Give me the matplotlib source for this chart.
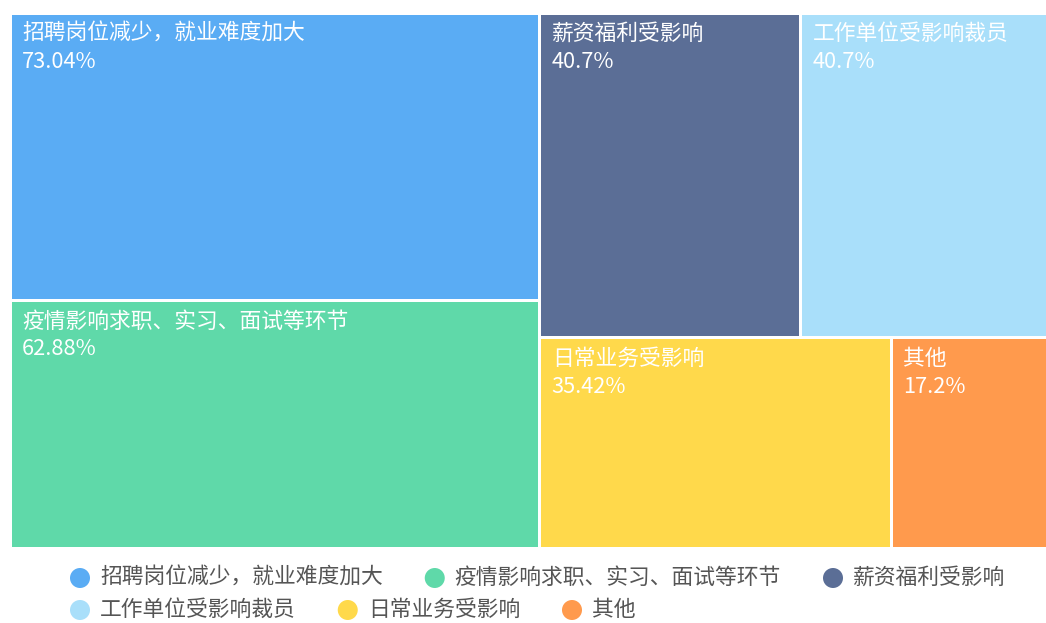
import matplotlib
matplotlib.use('Agg')
import matplotlib.pyplot as plt
from matplotlib.patches import Rectangle, Circle

plt.rcParams['font.family'] = ['Noto Sans CJK SC', 'DejaVu Sans']

# data
names = ['招聘岗位减少，就业难度加大', '疫情影响求职、实习、面试等环节', '薪资福利受影响',
         '工作单位受影响裁员', '日常业务受影响', '其他']
values = [73.04, 62.88, 40.7, 40.7, 35.42, 17.2]
colors = ['#5aacf4', '#5fd9a9', '#5b6e96', '#a9dffa', '#ffd94b', '#ff9a4d']


def worst(areas, side, ratio):
    s = sum(areas)
    f = side * side * ratio
    return max(f * max(areas) / (s * s), (s * s) / (f * min(areas)))


def squarify(vals, x, y, w, h, ratio=0.5 * (1 + 5 ** 0.5)):
    # squarified layout, echarts style
    total = sum(vals)
    areas = [v / total * w * h for v in vals]
    rects = []
    i = 0
    while i < len(areas):
        side = min(w, h)
        row = [areas[i]]
        best = worst(row, side, ratio)
        j = i + 1
        while j < len(areas):
            sc = worst(row + [areas[j]], side, ratio)
            if sc <= best:
                row.append(areas[j])
                best = sc
                j += 1
            else:
                break
        s = sum(row)
        if w >= h:
            cw = s / h
            cy = y
            for a in row:
                rects.append((x, cy, cw, a / cw))
                cy += a / cw
            x += cw
            w -= cw
        else:
            rh = s / w
            cx = x
            for a in row:
                rects.append((cx, y, a / rh, rh))
                cx += a / rh
            y += rh
            h -= rh
        i = j
    return rects


fig = plt.figure(figsize=(10.46, 6.23), dpi=100)
ax = fig.add_axes([0, 0, 1, 1])
ax.set_xlim(0, 1046)
ax.set_ylim(623, 0)
ax.axis('off')

rects = squarify(values, 10, 13, 1052, 535)
gap = 1.5
for (rx, ry, rw, rh), n, v, c in zip(rects, names, values, colors):
    ax.add_patch(Rectangle((rx + gap, ry + gap), rw - 2 * gap, rh - 2 * gap,
                           facecolor=c, edgecolor='none'))
    ax.text(rx + 12, ry + 10, n, color='white', fontsize=15.7, va='top', ha='left')
    ax.text(rx + 12, ry + 38, f'{v}%', color='white', fontsize=15.7, va='top', ha='left')

# legend, flowing rows
fig.canvas.draw()
renderer = fig.canvas.get_renderer()
lx, ly = 80, 578
for n, c in zip(names, colors):
    t = ax.text(0, 0, n, fontsize=15.7, color='#555555', va='center', ha='left')
    tw = t.get_window_extent(renderer).width
    if lx + 20 + tw > 1030:
        lx = 80
        ly += 32
    t.set_position((lx + 20, ly))
    ax.add_patch(Circle((lx, ly), 10, facecolor=c, edgecolor='none'))
    lx += 20 + tw + 52

fig.savefig('out.png', dpi=100)
